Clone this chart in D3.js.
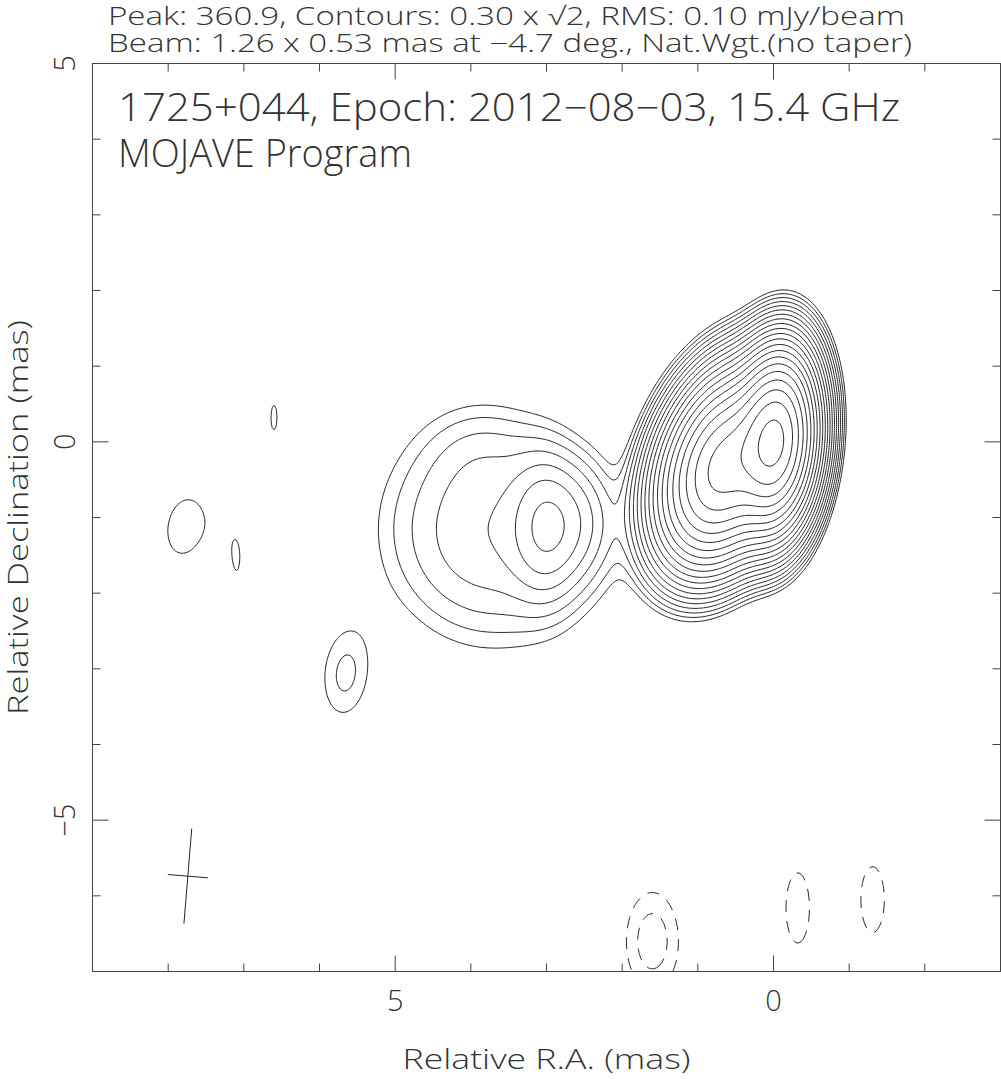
<!DOCTYPE html>
<html>
<head>
<meta charset="utf-8">
<script src="https://cdn.jsdelivr.net/npm/d3@7"></script>
<style>
  body { margin: 0; background: #fff; }
  text { font-family: "Open Sans", sans-serif; font-weight: 300; fill: #333; }
</style>
</head>
<body>
<script>
// map header
var titleLines = ["Peak: 360.9, Contours: 0.30 x \u221A2, RMS: 0.10 mJy/beam",
                  "Beam: 1.26 x 0.53 mas at \u22124.7 deg., Nat.Wgt.(no taper)"];
var labelLines = ["1725+044, Epoch: 2012\u221208\u221203, 15.4 GHz", "MOJAVE Program"];

// axes (mas)
var raDomain = [9, -3];
var decDomain = [5, -7];
var xTickLabels = [5, 0];
var yTickLabels = [5, 0, -5];

// contour levels (mJy/beam)
var baseLevel = 0.30;
var nPosLevels = 21;
var nNegLevels = 2;

// restoring beam
var beam = { major: 1.26, minor: 0.53, pa: -4.7, ra: 7.74, dec: -5.74 };

// gaussian components: position (mas), peak (mJy/beam), FWHM (mas), PA (deg)
//               core   jet    S1     S2     S3     S-top  blobA  blobB  spot    spot    neg1   neg2   neg3
var compRA   = [-0.02, 0.64,  3.01,  3.75,  2.55,  3.85,  7.78,  5.66,  6.60,   7.09,   1.60, -0.32, -1.31];
var compDec  = [0.00, -0.32, -1.12, -1.20, -1.05, -0.10, -1.12, -3.08,  0.34,  -1.60,  -6.60, -6.16, -6.05];
var compPeak = [313,   180,   1.7,   1.15,  0.8,   0.2,   0.40,  0.45,  0.3015, 0.2935, -0.50, -0.40, -0.40];
var compMaj  = [1.26,  1.40,  1.30,  2.20,  1.20,  1.20,  1.10,  1.28,  2.00,   2.00,   1.50,  1.44,  1.35];
var compMin  = [0.58,  0.85,  0.66,  2.10,  0.70,  1.00,  0.68,  0.68,  0.50,   0.50,   0.80,  0.48,  0.48];
var compPA   = [-4.7, -19,     0,    20,     0,    90,   -10,    -5,     0,      0,      0,     0,     0];

var width = 1001, height = 1079;
var plotLeft = 92.5, plotTop = 63.5, plotSize = 908;

var svg = d3.select("body").append("svg")
    .attr("width", width)
    .attr("height", height);

var x = d3.scaleLinear().domain(raDomain).range([plotLeft, plotLeft + plotSize]);
var y = d3.scaleLinear().domain(decDomain).range([plotTop, plotTop + plotSize]);

// brightness grid
var step = 0.025;
var nx = Math.round((raDomain[0] - raDomain[1]) / step) + 1,
    ny = Math.round((decDomain[0] - decDomain[1]) / step) + 1;

function brightness(ra, dec) {
    var s = 0;
    for (var k = 0; k < compRA.length; k++) {
        var dx = ra - compRA[k], dy = dec - compDec[k];
        var th = compPA[k] * Math.PI / 180;
        var u = dx * Math.sin(th) + dy * Math.cos(th);
        var v = dx * Math.cos(th) - dy * Math.sin(th);
        var sM = compMaj[k] / 2.3548, sm = compMin[k] / 2.3548;
        s += compPeak[k] * Math.exp(-(u * u / (2 * sM * sM) + v * v / (2 * sm * sm)));
    }
    return s;
}

var values = new Float64Array(nx * ny);
for (var j = 0; j < ny; j++) {
    for (var i = 0; i < nx; i++) {
        values[j * nx + i] = brightness(raDomain[0] - i * step, decDomain[0] - j * step);
    }
}
var negValues = values.map(function(d) { return -d; });

var posLevels = d3.range(nPosLevels).map(function(k) { return baseLevel * Math.pow(Math.SQRT2, k); });
var negLevels = d3.range(nNegLevels).map(function(k) { return baseLevel * Math.pow(Math.SQRT2, k); });

var toPixels = d3.geoTransform({
    point: function(gx, gy) {
        this.stream.point(x(raDomain[0] - (gx - 0.5) * step), y(decDomain[0] - (gy - 0.5) * step));
    }
});
var path = d3.geoPath(toPixels);

svg.append("clipPath").attr("id", "frame-clip")
  .append("rect")
    .attr("x", plotLeft).attr("y", plotTop)
    .attr("width", plotSize).attr("height", plotSize);

var plot = svg.append("g").attr("clip-path", "url(#frame-clip)");

var contours = d3.contours().size([nx, ny]);

plot.append("g")
    .attr("fill", "none")
    .attr("stroke", "#222")
    .attr("stroke-width", 1)
  .selectAll("path")
  .data(contours.thresholds(posLevels)(values))
  .enter().append("path")
    .attr("d", path);

plot.append("g")
    .attr("fill", "none")
    .attr("stroke", "#222")
    .attr("stroke-width", 1)
    .attr("stroke-dasharray", "12,9")
  .selectAll("path")
  .data(contours.thresholds(negLevels)(negValues))
  .enter().append("path")
    .attr("d", path);

// beam cross
var pa = beam.pa * Math.PI / 180;
var beamLines = [
    [[beam.ra - beam.major / 2 * Math.sin(pa), beam.dec - beam.major / 2 * Math.cos(pa)],
     [beam.ra + beam.major / 2 * Math.sin(pa), beam.dec + beam.major / 2 * Math.cos(pa)]],
    [[beam.ra - beam.minor / 2 * Math.cos(pa), beam.dec + beam.minor / 2 * Math.sin(pa)],
     [beam.ra + beam.minor / 2 * Math.cos(pa), beam.dec - beam.minor / 2 * Math.sin(pa)]]
];
plot.selectAll(".beam")
  .data(beamLines)
  .enter().append("line")
    .attr("class", "beam")
    .attr("x1", function(d) { return x(d[0][0]); })
    .attr("y1", function(d) { return y(d[0][1]); })
    .attr("x2", function(d) { return x(d[1][0]); })
    .attr("y2", function(d) { return y(d[1][1]); })
    .attr("stroke", "#222")
    .attr("stroke-width", 1);

// frame and ticks
svg.append("rect")
    .attr("x", plotLeft).attr("y", plotTop)
    .attr("width", plotSize).attr("height", plotSize)
    .attr("fill", "none")
    .attr("stroke", "#444")
    .attr("stroke-width", 1);

var xticks = d3.range(-2, 9);
var yticks = d3.range(-6, 5);
function tickLen(d) { return d % 5 === 0 ? 16 : 8; }

var tk = svg.append("g").attr("stroke", "#444").attr("stroke-width", 1);
xticks.forEach(function(d) {
    tk.append("line").attr("x1", x(d)).attr("x2", x(d)).attr("y1", plotTop + plotSize).attr("y2", plotTop + plotSize - tickLen(d));
    tk.append("line").attr("x1", x(d)).attr("x2", x(d)).attr("y1", plotTop).attr("y2", plotTop + tickLen(d));
});
yticks.forEach(function(d) {
    tk.append("line").attr("y1", y(d)).attr("y2", y(d)).attr("x1", plotLeft).attr("x2", plotLeft + tickLen(d));
    tk.append("line").attr("y1", y(d)).attr("y2", y(d)).attr("x1", plotLeft + plotSize).attr("x2", plotLeft + plotSize - tickLen(d));
});

function fmt(d) { return d < 0 ? "\u2212" + Math.abs(d) : String(d); }

svg.selectAll(".xlab")
  .data(xTickLabels)
  .enter().append("text")
    .attr("class", "xlab")
    .attr("x", function(d) { return x(d); })
    .attr("y", 1011)
    .attr("text-anchor", "middle")
    .attr("font-size", 29)
    .text(fmt);

svg.selectAll(".ylab")
  .data(yTickLabels)
  .enter().append("text")
    .attr("class", "ylab")
    .attr("transform", function(d) { return "translate(75," + y(d) + ") rotate(-90)"; })
    .attr("text-anchor", "middle")
    .attr("font-size", 29)
    .text(fmt);

svg.append("text")
    .attr("x", plotLeft + plotSize / 2)
    .attr("y", 1069)
    .attr("text-anchor", "middle")
    .attr("font-size", 28)
    .attr("textLength", 288)
    .attr("lengthAdjust", "spacingAndGlyphs")
    .text("Relative R.A. (mas)");

svg.append("text")
    .attr("transform", "translate(28," + (plotTop + plotSize / 2) + ") rotate(-90)")
    .attr("text-anchor", "middle")
    .attr("font-size", 28)
    .attr("textLength", 395)
    .attr("lengthAdjust", "spacingAndGlyphs")
    .text("Relative Declination (mas)");

var titleX = [108, 108], titleW = [797, 804], titleY = [25, 52];
titleLines.forEach(function(t, i) {
    svg.append("text")
        .attr("x", titleX[i]).attr("y", titleY[i])
        .attr("font-size", 25)
        .attr("textLength", titleW[i])
        .attr("lengthAdjust", "spacingAndGlyphs")
        .text(t);
});

var labelW = [782, 294], labelY = [121, 167];
labelLines.forEach(function(t, i) {
    svg.append("text")
        .attr("x", 118).attr("y", labelY[i])
        .attr("font-size", 38)
        .attr("textLength", labelW[i])
        .attr("lengthAdjust", "spacingAndGlyphs")
        .text(t);
});
</script>
</body>
</html>
